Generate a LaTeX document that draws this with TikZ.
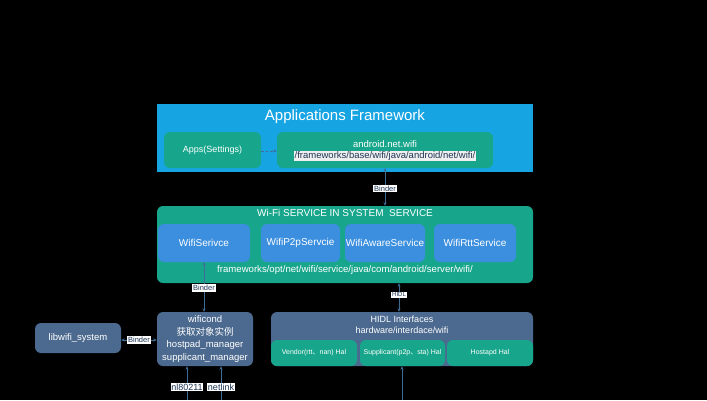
\documentclass[tikz,border=0pt]{standalone}
\usepackage{fontspec}
\setmainfont{Liberation Sans}
\newfontfamily\cjk{Noto Sans CJK SC}
\usetikzlibrary{arrows.meta}
\definecolor{afblue}{HTML}{17A4E3}
\definecolor{tealc}{HTML}{17A68B}
\definecolor{subblue}{HTML}{3B8FDE}
\definecolor{slate}{HTML}{4C6A8F}
\definecolor{arrowc}{HTML}{3D6C97}
\definecolor{labtext}{HTML}{1E3554}
\tikzset{
  frame/.style={draw=none,fill=#1,inner sep=0pt},
  rbox/.style={draw=none,fill=#1,rounded corners=6pt,inner sep=0pt,text=white,align=center},
  conn/.style={draw=arrowc,line width=0.7pt,-{Stealth[length=3.5pt,width=3pt]}},
  bconn/.style={draw=arrowc,line width=0.7pt,{Stealth[length=3.5pt,width=3pt]}-{Stealth[length=3.5pt,width=3pt]}},
  lab/.style={fill=white,text=labtext,inner sep=0.8pt,font=\fontsize{7.5}{8}\selectfont},
  blab/.style={fill=white,text=labtext,inner sep=0.6pt,font=\fontsize{9}{10}\selectfont},
  wtext/.style={text=white,inner sep=0pt,align=center}
}
\begin{document}
\begin{tikzpicture}[x=1pt,y=-1pt]
\fill[black] (0,0) rectangle (707,400);
\useasboundingbox (0,0) rectangle (707,400);
% Applications Framework
\node[frame=afblue,minimum width=376pt,minimum height=68pt] (af) at (345,138) {};
\node[wtext,font=\fontsize{15}{16}\selectfont] (aft) at (345,117) {Applications Framework};
\node[rbox=tealc,minimum width=97pt,minimum height=36pt,font=\fontsize{9}{10}\selectfont] (apps) at (212.5,150) {Apps(Settings)};
\node[rbox=tealc,minimum width=216pt,minimum height=36pt] (anw) at (385,150) {};
\node[wtext,font=\fontsize{9.5}{10}\selectfont] (anwt) at (385,144.5) {android.net.wifi};
\node[fill=white!88!gray,text=labtext,inner sep=0.6pt,font=\fontsize{9.5}{10}\selectfont] (anwp) at (385,156) {/frameworks/base/wifi/java/android/net/wifi/};
% WiFi service
\node[frame=tealc,rounded corners=6pt,minimum width=376pt,minimum height=77pt] (ws) at (345,244.5) {};
\node[wtext,font=\fontsize{10}{11}\selectfont] (wst) at (345,213) {Wi-Fi SERVICE IN SYSTEM\ \ SERVICE};
\node[rbox=subblue,minimum width=92pt,minimum height=38pt,font=\fontsize{10}{11}\selectfont] (wfs) at (204,243) {WifiSerivce};
\node[rbox=subblue,minimum width=79pt,minimum height=38pt,font=\fontsize{10}{11}\selectfont] (p2p) at (300.5,243) {WifiP2pServcie};
\node[rbox=subblue,minimum width=80pt,minimum height=38pt,font=\fontsize{10}{11}\selectfont] (aware) at (385,243) {WifiAwareService};
\node[rbox=subblue,minimum width=82pt,minimum height=38pt,font=\fontsize{10}{11}\selectfont] (rtt) at (475,243) {WifiRttService};
\node[wtext,font=\fontsize{9.6}{10}\selectfont] (wsp) at (345,270) {frameworks/opt/net/wifi/service/java/com/android/server/wifi/};
% wificond
\node[rbox=slate,minimum width=96pt,minimum height=54pt,font=\fontsize{9.5}{12.5}\selectfont] (wc) at (205,339) {wificond\\{\cjk 获取对象实例}\\hostpad\_manager\\supplicant\_manager};
\node[rbox=slate,minimum width=86pt,minimum height=30pt,font=\fontsize{9.5}{12}\selectfont] (lib) at (78,338) {libwifi\_system};
% HIDL
\node[frame=slate,rounded corners=6pt,minimum width=262pt,minimum height=54pt] (hidl) at (402,339) {};
\node[wtext,font=\fontsize{9}{11}\selectfont] (hidlt) at (402,324.5) {HIDL Interfaces\\hardware/interdace/wifi};
\node[rbox=tealc,minimum width=86pt,minimum height=26pt,font=\fontsize{7}{8}\selectfont] (vend) at (314,353) {Vendor(rtt{\cjk 、}nan) Hal};
\node[rbox=tealc,minimum width=85pt,minimum height=26pt,font=\fontsize{7}{8}\selectfont] (supp) at (402.5,353) {Supplicant(p2p{\cjk 、}sta) Hal};
\node[rbox=tealc,minimum width=86pt,minimum height=26pt,font=\fontsize{7}{8}\selectfont] (hap) at (490,353) {Hostapd Hal};
% connectors
\draw[conn,dashed,dash pattern=on 2.5pt off 2pt] (apps.east |- 0,151) -- (anw.west |- 0,151);
\draw[bconn] (anw.south) -- node[lab,pos=0.55] (b1) {Binder} (ws.north -| anw.south);
\draw[bconn] (wfs.south) -- node[lab,pos=0.52] (b2) {Binder} (wc.north -| wfs.south);
\draw[bconn] ([xshift=54pt]ws.south) -- node[lab,font=\fontsize{6}{7}\selectfont,pos=0.4] (h1) {HIDL} ([xshift=-3pt]hidl.north);
\draw[bconn] (lib.east |- 0,340) -- node[lab,pos=0.5] (b3) {Binder} (wc.west |- 0,340);
\coordinate (n1) at (187,400);
\coordinate (n2) at (221,400);
\coordinate (n3) at (402,400);
\draw[conn] (n1) -- node[blab,pos=0.38] (nl) {nl80211} (wc.south -| n1);
\draw[conn] (n2) -- node[blab,pos=0.38] (nk) {netlink} (wc.south -| n2);
\draw[conn] (n3) -- (supp.south -| n3);
\end{tikzpicture}
\end{document}
